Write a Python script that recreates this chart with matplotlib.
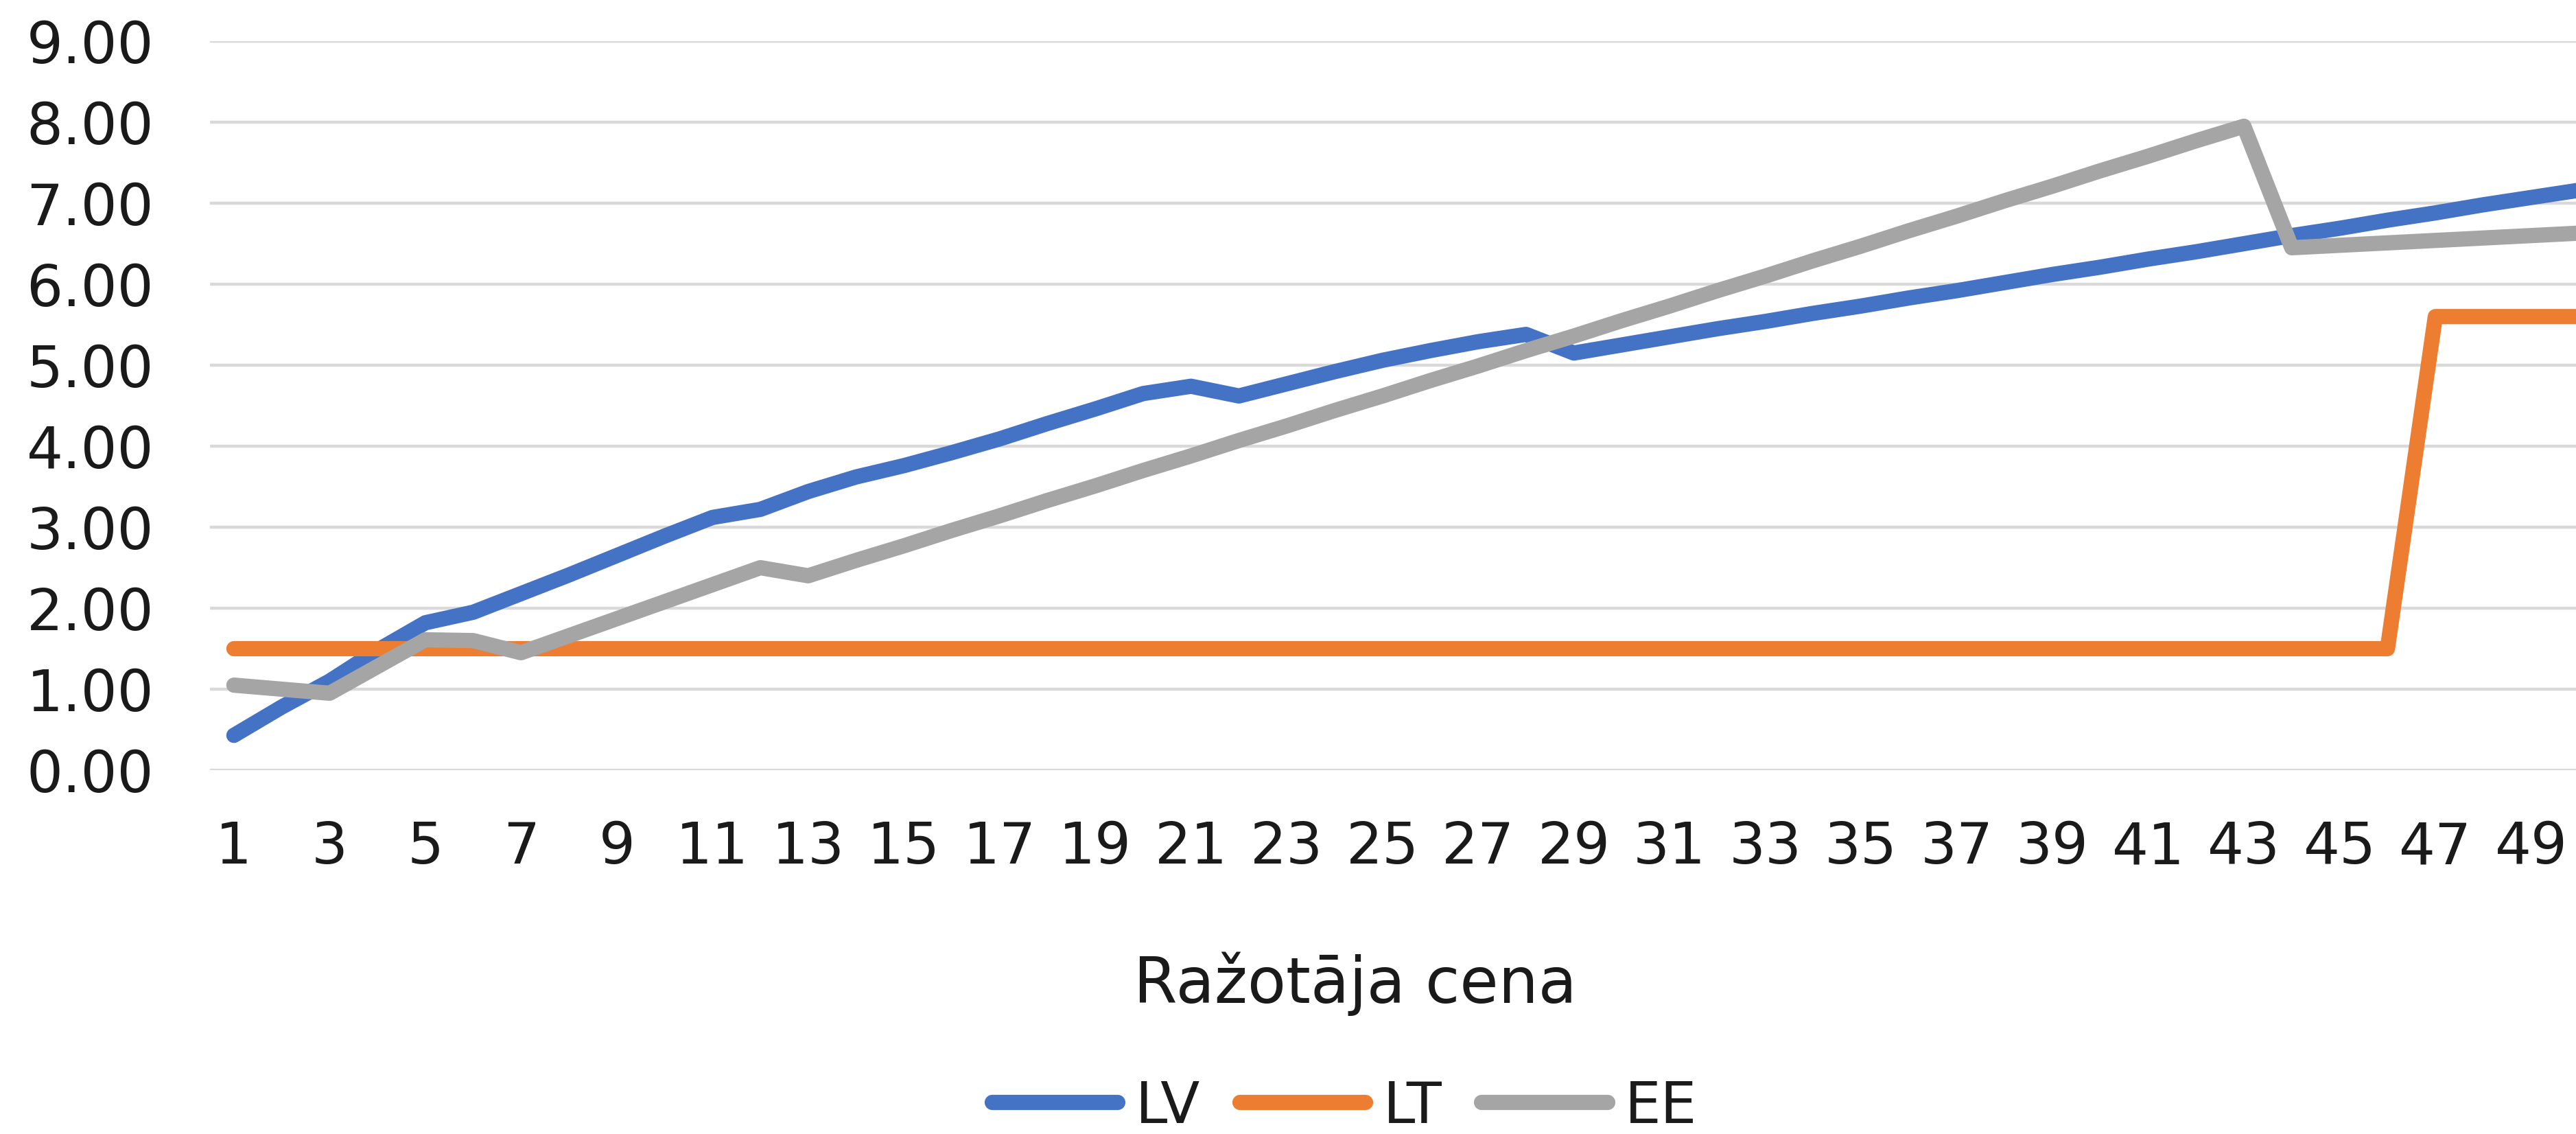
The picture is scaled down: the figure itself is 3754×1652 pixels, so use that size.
import matplotlib
matplotlib.use("Agg")
import matplotlib.pyplot as plt
import numpy as np

# producer price steps 1..50
x = np.arange(1, 51)

lv = [0.43, 0.78, 1.10, 1.48, 1.82, 1.95, 2.18, 2.41, 2.65, 2.89,
      3.12, 3.22, 3.44, 3.62, 3.76, 3.92, 4.09, 4.28, 4.46, 4.65,
      4.74, 4.62, 4.77, 4.92, 5.06, 5.18, 5.29, 5.38, 5.15, 5.25,
      5.35, 5.45, 5.54, 5.64, 5.73, 5.83, 5.92, 6.02, 6.12, 6.21,
      6.31, 6.40, 6.50, 6.60, 6.69, 6.79, 6.88, 6.98, 7.07, 7.16]
lt = [1.50] * 46 + [5.60] * 4
ee = [1.05, 1.00, 0.95, 1.28, 1.61, 1.60, 1.45, 1.66, 1.87, 2.08,
      2.29, 2.50, 2.40, 2.59, 2.77, 2.96, 3.14, 3.33, 3.51, 3.70,
      3.88, 4.07, 4.25, 4.44, 4.62, 4.81, 4.99, 5.18, 5.36, 5.55,
      5.73, 5.92, 6.10, 6.29, 6.47, 6.66, 6.84, 7.03, 7.21, 7.40,
      7.58, 7.77, 7.95, 6.45, 6.48, 6.51, 6.54, 6.57, 6.60, 6.63]

series = [("LV", lv, "#4472C4"), ("LT", lt, "#ED7D31"), ("EE", ee, "#A5A5A5")]

plt.rcParams["font.family"] = ["DejaVu Sans"]
W, H = 3754, 1652
fig = plt.figure(figsize=(W / 100, H / 100), dpi=100)
ax = fig.add_axes([306 / W, 1 - 1122 / H, 1 - 306 / W, (1122 - 60) / H])

for name, vals, col in series:
    ax.plot(x, vals, color=col, lw=16, label=name,
            solid_capstyle="round", solid_joinstyle="round", clip_on=True)

ax.set_xlim(0.5, 49.94)
ax.set_ylim(0, 9)
ax.set_yticks(np.arange(0, 10, 1))
ax.set_yticklabels(["%.2f" % v for v in range(10)])
ax.set_xticks(x[::2])
ax.set_xticklabels([str(v) for v in x[::2]])
ax.grid(axis="y", color="#d9d9d9", lw=3.2)
ax.set_axisbelow(True)
for s in ax.spines.values():
    s.set_visible(False)
ax.tick_params(length=0, labelsize=60, colors="#1a1a1a")
ax.tick_params(axis="y", pad=59)
ax.tick_params(axis="x", pad=52)

fig.text(1975 / W, 1 - 1461 / H, "Ražotāja cena", fontsize=66,
         ha="center", va="baseline", color="#1a1a1a")

fig.legend(loc="center", bbox_to_anchor=(0.522, 1 - 1612 / H), ncol=3,
           frameon=False, fontsize=60, handlelength=2.2, handletextpad=0.3,
           columnspacing=0.7, borderpad=0, labelcolor="#1a1a1a")

fig.savefig("out.png", dpi=100)
